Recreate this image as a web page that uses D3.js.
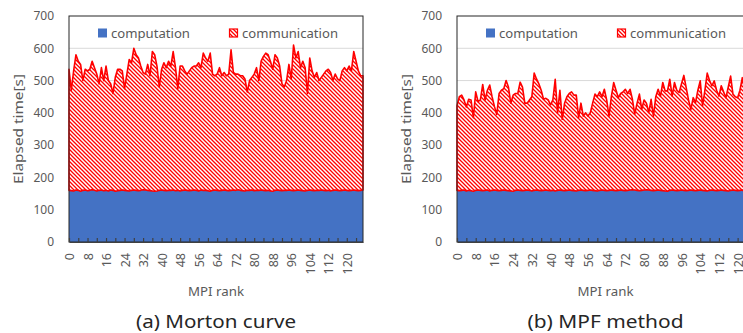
<!DOCTYPE html>
<html>
<head>
<meta charset="utf-8">
<script src="https://cdn.jsdelivr.net/npm/d3@7/dist/d3.min.js"></script>
<style>
  html, body { margin: 0; padding: 0; background: #fff; }
  svg { display: block; }
  text { font-family: "Noto Sans", "DejaVu Sans", sans-serif; }
</style>
</head>
<body>
<svg id="chart" width="743" height="333"></svg>
<script>
// ---------------- DATA ----------------
const ranks = d3.range(0, 128);
const xTickLabels = [0, 8, 16, 24, 32, 40, 48, 56, 64, 72, 80, 88, 96, 104, 112, 120];
const yTickLabels = [0, 100, 200, 300, 400, 500, 600, 700];
const seriesNames = ["computation", "communication"];
const captions = ["(a) Morton curve", "(b) MPF method"];

// computation time per rank [s]
const computationMorton = [
  160,159,158,161,160,157,160,161,159,160,162,160,158,160,161,159,
  160,158,161,160,157,159,160,161,160,159,158,160,161,160,159,160,
  162,161,160,159,158,157,158,160,161,160,159,160,160,161,159,160,
  158,160,161,160,159,160,161,160,158,161,160,160,159,157,160,161,
  160,159,160,161,160,159,160,161,160,162,160,159,158,160,160,161,
  159,160,160,161,160,159,160,158,157,160,161,160,159,160,160,161,
  160,159,160,161,160,159,158,160,161,160,159,160,160,161,160,159,
  160,158,160,161,160,159,160,161,160,159,160,161,160,159,160,161
];
// total elapsed time (computation + communication) per rank [s]
const elapsedMorton = [
  535,470,530,580,560,550,500,535,530,535,560,540,520,490,540,500,
  545,500,490,460,510,535,535,530,475,520,565,555,600,580,570,545,
  525,520,550,515,590,580,545,480,535,555,540,560,545,590,540,475,
  545,545,530,520,530,540,545,545,555,540,585,570,560,585,520,515,
  520,540,515,525,515,520,595,525,520,520,515,515,505,465,500,510,
  520,540,500,560,575,585,580,560,535,580,570,545,490,480,500,550,
  505,610,570,590,540,560,540,460,570,530,510,525,500,510,520,530,
  535,525,500,520,505,500,530,540,530,545,530,590,560,530,515,515
];

const computationMPF = [
  160,159,160,161,158,160,159,157,160,161,160,159,160,161,158,160,
  161,160,159,160,161,160,159,158,157,160,161,160,159,160,161,160,
  158,160,161,160,159,160,161,160,159,160,158,160,161,160,159,160,
  161,160,159,158,160,161,160,159,160,161,160,159,158,160,161,160,
  159,160,161,160,159,160,161,160,159,160,161,162,161,160,159,160,
  161,162,161,160,159,160,161,160,159,158,157,160,161,160,159,160,
  161,160,159,160,161,160,159,160,161,160,159,158,160,161,160,159,
  160,161,160,159,158,160,161,160,159,160,161,156,160,161,160,159
];
const elapsedMPF = [
  422,450,455,440,418,442,440,385,465,435,440,488,440,470,486,450,
  420,395,460,470,475,500,480,430,455,460,460,495,480,430,430,440,
  450,523,505,490,470,442,445,440,425,440,504,400,470,380,430,450,
  460,465,455,455,385,430,390,400,390,400,430,458,450,465,450,473,
  440,390,450,494,470,447,460,465,473,460,473,442,396,430,458,411,
  440,430,401,442,390,450,473,452,494,468,468,504,452,494,470,463,
  490,516,478,440,411,447,432,470,499,422,470,523,500,484,499,470,
  452,484,465,447,480,514,458,450,447,470,509,470,450,460,480,470
];

// ---------------- DRAWING ----------------
const svg = d3.select("#chart");
svg.append("rect").attr("width", 743).attr("height", 333).attr("fill", "#fff");

const defs = svg.append("defs");
const pat = defs.append("pattern")
  .attr("id", "hatch").attr("patternUnits", "userSpaceOnUse")
  .attr("width", 4).attr("height", 4);
pat.append("rect").attr("width", 4).attr("height", 4).attr("fill", "#fff");
pat.append("path")
  .attr("d", "M-1,-1 L5,5 M-1,3 L1,5 M3,-1 L5,1")
  .attr("stroke", "#ff0000").attr("stroke-width", 1.3);

const textColor = "#595959";
const blue = "#4472C4";
const red = "#ff0000";

function drawPanel(cfg) {
  const { left, right, top, bottom, comp, total, caption } = cfg;
  const g = svg.append("g");
  const x = d3.scaleLinear().domain([0, 127]).range([left, right]);
  const y = d3.scaleLinear().domain([0, 700]).range([bottom, top]);

  // gridlines
  g.append("g").selectAll("line").data(yTickLabels.filter(v => v > 0 && v < 700)).join("line")
    .attr("x1", left).attr("x2", right)
    .attr("y1", d => y(d)).attr("y2", d => y(d))
    .attr("stroke", "#d9d9d9").attr("stroke-width", 1);

  // computation area
  const areaComp = d3.area().x(d => x(d)).y0(y(0)).y1(d => y(comp[d]));
  g.append("path").datum(ranks).attr("d", areaComp).attr("fill", blue);

  // communication area (stacked)
  const areaComm = d3.area().x(d => x(d)).y0(d => y(comp[d])).y1(d => y(total[d]));
  g.append("path").datum(ranks).attr("d", areaComm)
    .attr("fill", "url(#hatch)").attr("stroke", red)
    .attr("stroke-width", 1.6).attr("stroke-linejoin", "round");

  // plot frame
  g.append("rect").attr("x", left).attr("y", top)
    .attr("width", right - left).attr("height", bottom - top)
    .attr("fill", "none").attr("stroke", "#262626").attr("stroke-width", 1);

  // x axis
  const xAxis = d3.axisBottom(x)
    .tickValues(d3.range(0, 128, 4))
    .tickSizeInner(-4).tickSizeOuter(0)
    .tickFormat(d => xTickLabels.includes(d) ? d : "");
  const ax = g.append("g").attr("transform", `translate(0,${bottom})`).call(xAxis);
  ax.select(".domain").attr("stroke", "#404040").attr("stroke-width", 1.2);
  ax.selectAll(".tick line").attr("stroke", "#404040").attr("stroke-width", 1.2);
  ax.selectAll(".tick text")
    .attr("fill", textColor).attr("font-size", 12.5)
    .attr("font-family", "'Noto Sans', sans-serif")
    .attr("text-anchor", "end")
    .attr("transform", "translate(0,11) rotate(-90)")
    .attr("x", 0).attr("y", 0).attr("dy", "0.36em");

  // y axis labels
  const yAxis = d3.axisLeft(y).tickValues(yTickLabels).tickSize(0).tickPadding(15);
  const ay = g.append("g").attr("transform", `translate(${left},0)`).call(yAxis);
  ay.select(".domain").remove();
  ay.selectAll(".tick text").attr("fill", textColor).attr("font-size", 12)
    .attr("font-family", "'Noto Sans', sans-serif");

  // y title
  g.append("text")
    .attr("transform", `translate(${left - 51},${(top + bottom) / 2 + 0}) rotate(-90)`)
    .attr("text-anchor", "middle").attr("dy", "0.35em")
    .attr("fill", textColor).attr("font-size", 13)
    .attr("textLength", 110).attr("lengthAdjust", "spacingAndGlyphs")
    .text("Elapsed time[s]");

  const cx = (left + right) / 2;
  // x title
  g.append("text").attr("x", cx).attr("y", 291).attr("dy", "0.35em")
    .attr("text-anchor", "middle").attr("fill", textColor).attr("font-size", 13)
    .attr("textLength", 56).attr("lengthAdjust", "spacingAndGlyphs")
    .text("MPI rank");

  // caption
  g.append("text").attr("x", cx).attr("y", 322).attr("dy", "0.35em")
    .attr("text-anchor", "middle").attr("fill", "#262626").attr("font-size", 18)
    .attr("textLength", cfg.captionLen).attr("lengthAdjust", "spacingAndGlyphs")
    .text(caption);

  // legend
  const ly = 33;
  g.append("rect").attr("x", left + 29).attr("y", ly - 4.5).attr("width", 9).attr("height", 9)
    .attr("fill", blue);
  g.append("text").attr("x", left + 42).attr("y", ly).attr("dy", "0.35em")
    .attr("fill", textColor).attr("font-size", 13)
    .attr("textLength", 79).attr("lengthAdjust", "spacingAndGlyphs")
    .text(seriesNames[0]);
  g.append("rect").attr("x", left + 160.5).attr("y", ly - 4).attr("width", 8).attr("height", 8)
    .attr("fill", "url(#hatch)").attr("stroke", red).attr("stroke-width", 1.2);
  g.append("text").attr("x", left + 173).attr("y", ly).attr("dy", "0.35em")
    .attr("fill", textColor).attr("font-size", 13)
    .attr("textLength", 96).attr("lengthAdjust", "spacingAndGlyphs")
    .text(seriesNames[1]);
}

drawPanel({ left: 69, right: 363, top: 16, bottom: 242,
  comp: computationMorton, total: elapsedMorton, caption: captions[0], captionLen: 160 });
drawPanel({ left: 457, right: 754, top: 16, bottom: 242,
  comp: computationMPF, total: elapsedMPF, caption: captions[1], captionLen: 156 });
</script>
</body>
</html>
